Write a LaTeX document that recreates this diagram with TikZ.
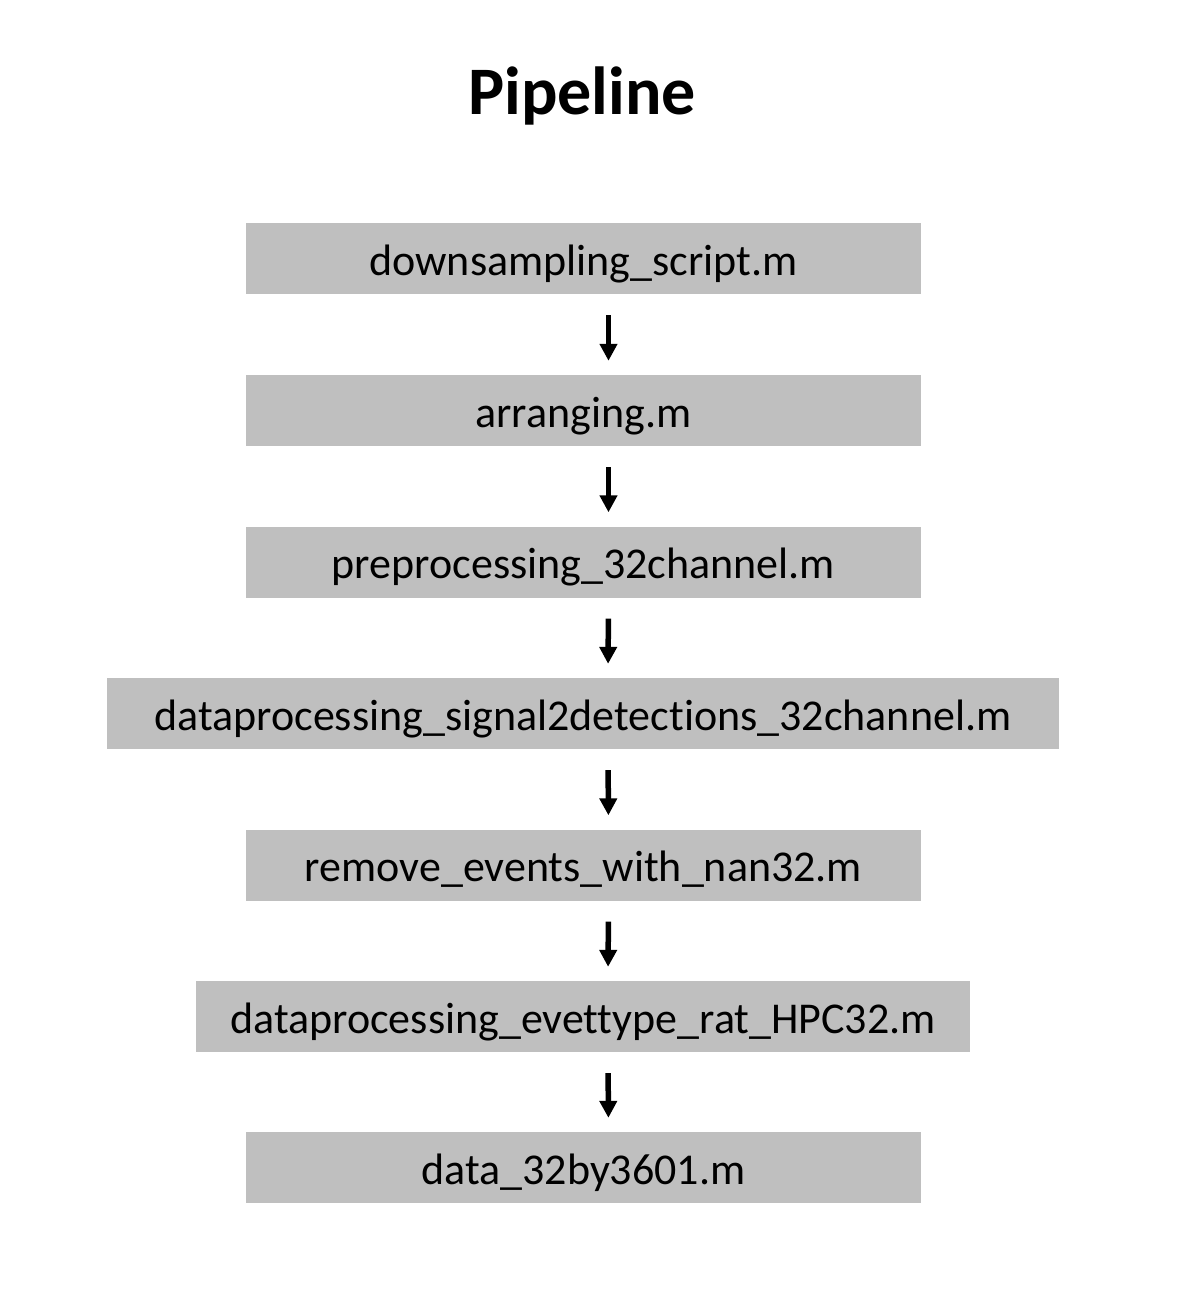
\documentclass[tikz,border=0pt]{standalone}
\usepackage{fontspec}
\setmainfont{Carlito}[Ligatures={NoCommon}]
\usetikzlibrary{arrows.meta}
\definecolor{boxgray}{HTML}{BFBFBF}
\tikzset{
  stepbox/.style={fill=boxgray, draw=none, inner sep=0pt, minimum height=71pt,
    text height=40pt, text depth=7pt, font=\fontsize{44}{52}\selectfont},
  flow/.style={line width=5.5pt, -{Triangle[width=17pt,length=17pt]}, shorten <=21pt, shorten >=14pt}
}
\begin{document}
\begin{tikzpicture}[x=1pt,y=-1pt]
\useasboundingbox (0,0) rectangle (1200,1312);
\node[font=\bfseries\fontsize{68}{76}\selectfont] (title) at (582,96) {Pipeline};
\node[stepbox, minimum width=675pt] (n1) at (583.5,258.5) {downsampling\_script.m};
\node[stepbox, minimum width=675pt] (n2) at (583.5,410.5) {arranging.m};
\node[stepbox, minimum width=675pt] (n3) at (583.5,562) {preprocessing\_32channel.m};
\node[stepbox, minimum width=952pt] (n4) at (583,713.5) {dataprocessing\_signal2detections\_32channel.m};
\node[stepbox, minimum width=675pt] (n5) at (583.5,865) {remove\_events\_with\_nan32.m};
\node[stepbox, minimum width=774pt] (n6) at (583,1016.5) {dataprocessing\_evettype\_rat\_HPC32.m};
\node[stepbox, minimum width=675pt] (n7) at (583.5,1167.5) {data\_32by3601.m};
\foreach \a/\b in {n1/n2,n2/n3,n3/n4,n4/n5,n5/n6,n6/n7}
  \draw[flow] ([xshift=25pt]\a.south) -- ([xshift=25pt]\b.north);
\end{tikzpicture}
\end{document}
